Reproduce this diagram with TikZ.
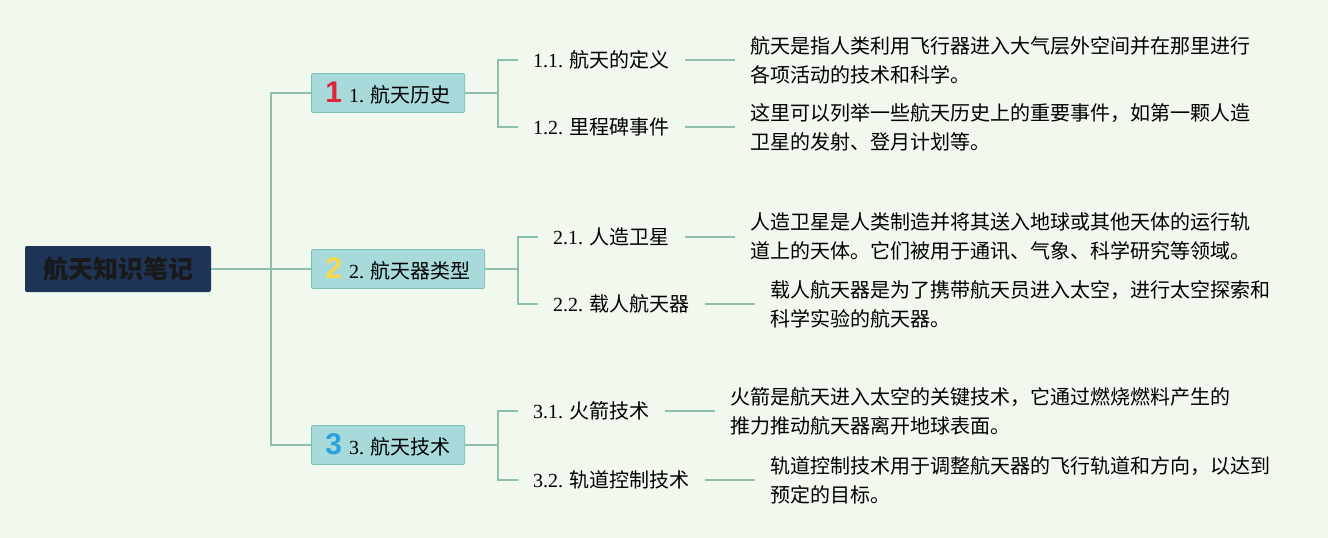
\documentclass[tikz,border=0pt]{standalone}
\usepackage{fontspec}
\setmainfont{Liberation Serif}
\newfontfamily\cjk{Noto Sans CJK SC}
\newfontfamily\badgefont{Liberation Sans}
\usepackage{tikz}
\usetikzlibrary{positioning}
\definecolor{bgcol}{HTML}{F1F8EE}
\definecolor{rootcol}{HTML}{1F3557}
\definecolor{topicfill}{HTML}{A9DADB}
\definecolor{topicdraw}{HTML}{7FBDB5}
\definecolor{linecol}{HTML}{8FC0AE}
\definecolor{badgered}{HTML}{E0253B}
\definecolor{badgeyellow}{HTML}{F6D84C}
\definecolor{badgeblue}{HTML}{2AA2E0}
\newcommand\badge[2]{{\badgefont\bfseries\fontsize{30}{30}\selectfont\color{#1}#2}\hspace{7pt}}

\begin{document}
\begin{tikzpicture}[x=1pt, y=-1pt,
  link/.style={draw=linecol, line width=1.4pt},
  rootbox/.style={rectangle, rounded corners=2pt, fill=rootcol, text=black!90, minimum width=186pt, minimum height=46pt, font=\cjk\bfseries\fontsize{25}{25}\selectfont},
  topic/.style={rectangle, rounded corners=2pt, draw=topicdraw, line width=0.8pt, fill=topicfill, anchor=west, minimum height=39pt, inner xsep=14pt, font=\fontsize{20}{20}\selectfont},
  sub/.style={anchor=west, inner xsep=15pt, font=\fontsize{20}{20}\selectfont},
  desc/.style={align=left, inner xsep=15pt, font=\cjk\fontsize{20}{29}\selectfont}]
\fill [bgcol] (0, 0) rectangle (1328, 538);
\useasboundingbox (0, 0) rectangle (1328, 538);

\node [rootbox] (root) at (118, 269) {航天知识笔记};

\node [topic] (t1) at (311, 93) {\badge{badgered}{1}1. {\cjk 航天历史}};
\node [topic] (t2) at (311, 269) {\badge{badgeyellow}{2}2. {\cjk 航天器类型}};
\node [topic] (t3) at (311, 445) {\badge{badgeblue}{3}3. {\cjk 航天技术}};

\coordinate (j0) at (271, 269);
\coordinate (j1) at (498, 93);
\coordinate (j2) at (518, 269);
\coordinate (j3) at (498, 445);

\node [sub] (s11) at (518, 60) {1.1. {\cjk 航天的定义}};
\node [sub] (s12) at (518, 127) {1.2. {\cjk 里程碑事件}};
\node [sub] (s21) at (538, 237) {2.1. {\cjk 人造卫星}};
\node [sub] (s22) at (538, 304) {2.2. {\cjk 载人航天器}};
\node [sub] (s31) at (518, 411) {3.1. {\cjk 火箭技术}};
\node [sub] (s32) at (518, 480) {3.2. {\cjk 轨道控制技术}};

\node [desc, right=50pt of s11] (d11) {航天是指人类利用飞行器进入大气层外空间并在那里进行\\各项活动的技术和科学。};
\node [desc, right=50pt of s12] (d12) {这里可以列举一些航天历史上的重要事件，如第一颗人造\\卫星的发射、登月计划等。};
\node [desc, right=50pt of s21] (d21) {人造卫星是人类制造并将其送入地球或其他天体的运行轨\\道上的天体。它们被用于通讯、气象、科学研究等领域。};
\node [desc, right=50pt of s22] (d22) {载人航天器是为了携带航天员进入太空，进行太空探索和\\科学实验的航天器。};
\node [desc, right=50pt of s31] (d31) {火箭是航天进入太空的关键技术，它通过燃烧燃料产生的\\推力推动航天器离开地球表面。};
\node [desc, right=50pt of s32] (d32) {轨道控制技术用于调整航天器的飞行轨道和方向，以达到\\预定的目标。};

\draw [link] (root.east) -- (t2.west);
\draw [link] (t1.west) -| (j0) |- (t3.west);

\draw [link] (t1.east) -- (j1);
\draw [link] (s11.west) -| (j1) |- (s12.west);
\draw [link] (t2.east) -- (j2);
\draw [link] (s21.west) -| (j2) |- (s22.west);
\draw [link] (t3.east) -- (j3);
\draw [link] (s31.west) -| (j3) |- (s32.west);

\draw [link] (s11.east) -- (d11.west);
\draw [link] (s12.east) -- (d12.west);
\draw [link] (s21.east) -- (d21.west);
\draw [link] (s22.east) -- (d22.west);
\draw [link] (s31.east) -- (d31.west);
\draw [link] (s32.east) -- (d32.west);
\end{tikzpicture}
\end{document}
